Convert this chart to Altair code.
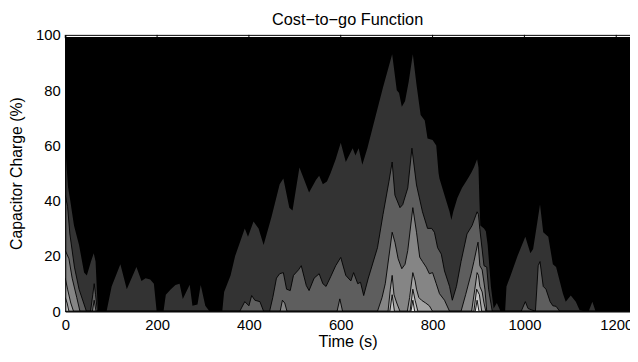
import altair as alt
import pandas as pd

TITLE = "Cost\u2212to\u2212go Function"
X_TITLE = "Time (s)"
Y_TITLE = "Capacitor Charge (%)"
X_TICKS = [0, 200, 400, 600, 800, 1000, 1200]
Y_TICKS = [0, 20, 40, 60, 80, 100]
X_MAX = 1230
Y_TOP = 99.2

# contour level 1 (darkest gray) upper envelope
L1_X = [0, 3, 6, 10, 19, 30, 41, 47, 56, 62, 66, 71,
        90, 101, 120, 134, 155, 166, 175, 185, 193, 199,
        214, 219, 230, 240, 249, 256, 271, 277, 288, 295, 305, 314,
        342, 346, 360, 370, 391, 398, 410, 421, 432, 449, 467, 475, 488, 495,
        510, 518, 531, 546, 553, 561, 570, 578, 589, 600, 611, 626, 632, 639,
        647, 658, 675, 692, 712, 722, 727, 733, 740, 748, 757, 765, 774, 783,
        789, 800, 808, 813, 815, 826, 837, 841, 845, 854, 864, 877, 884, 890,
        897, 900, 902, 904, 912, 916, 920, 927, 933, 940, 948,
        958, 961, 970, 985, 1002, 1013, 1019, 1026, 1034, 1041, 1052, 1062,
        1069, 1084, 1090, 1101, 1112, 1120, 1130, 1140, 1148, 1155, 1230]
L1_Y = [60, 52, 45, 41, 31, 24, 14, 13, 18, 21, 18, 0,
        0, 9, 17, 8, 16, 11, 12, 11.5, 10, 0,
        0, 6, 8, 9.5, 10, 4.5, 9.6, 2, 2.5, 9.5, 2, 0,
        0, 7, 13, 20, 30, 27, 32.5, 30, 24, 34, 46, 48, 37.5, 36.5,
        52, 48.6, 43, 47.5, 49, 46, 47, 50, 55, 61, 54, 59, 56.4, 59,
        53, 59, 70, 81, 93, 80, 79, 74, 76, 83, 93, 82, 71, 69,
        62.5, 62, 60, 50, 48, 42, 36, 33, 36, 41, 44.6, 48, 50, 52,
        55, 52, 40, 31, 30, 29, 24, 9, 1, 3, 0,
        0, 9, 13, 20, 27, 21, 22.5, 30, 38.6, 28.6, 27, 17,
        16, 6.4, 3.5, 5.7, 3.5, 0.5, 0, 0, 3.5, 0, 0]

# contour level 2
L2_X = [0, 5, 10, 20, 30, 40, 46, 55, 60, 63, 66, 70,
        380, 391, 400, 406, 413, 424, 432, 445, 452, 460, 467, 475, 482, 490,
        497, 508, 514, 525, 531, 542, 553, 561, 568, 578, 589, 600, 611, 622,
        628, 637, 643, 650, 660, 680, 692, 705, 712, 718, 729, 735, 746, 755,
        765, 778, 789, 798, 804, 811, 819, 826, 837, 843, 852, 862, 875, 886,
        897, 900, 903, 912, 918, 922, 927, 930,
        993, 1002, 1008, 1024, 1027, 1030, 1034, 1041, 1047, 1056, 1062, 1069,
        1077, 1230]
L2_Y = [42, 38, 28, 16, 8, 3, 0, 0, 6, 10, 6, 0,
        0, 3.5, 2, 5.7, 4, 3.5, 0, 0, 5, 12, 13.6, 14, 8, 7.5,
        13, 15, 16.5, 9.3, 7.5, 12, 13.6, 10, 9, 12.5, 16.5, 19.5, 13, 11,
        14, 10, 10.5, 5.7, 12, 23, 35, 47, 54, 42, 37.5, 38.6, 44.6, 59,
        45.7, 36, 30, 30, 28.6, 23, 20.7, 14.6, 9, 4, 9, 18, 28, 31,
        36, 35, 29.6, 16.5, 16, 8, 3, 0,
        0, 3.5, 1, 0, 8, 16.5, 18, 9, 8, 3.5, 2, 1.8,
        0, 0]

# contour level 3
L3_X = [0, 8, 15, 25, 32, 59, 63, 67, 468, 473, 478, 483, 592, 598, 604,
        680, 690, 697, 712, 718, 725, 733, 740, 746, 757, 765, 772, 778, 786,
        793, 800, 808, 815, 826, 837, 862, 872, 884, 890, 899, 903, 908, 914,
        918, 1230]
L3_Y = [22, 19, 12, 5, 0, 0, 4, 0, 0, 4, 3, 0, 0, 4.5, 0,
        0, 5, 10, 28.6, 25, 19, 15.4, 17, 22, 37.5, 28.6, 19.6, 18, 16,
        13.6, 14, 10, 6.4, 4, 0, 0, 6, 13.6, 18, 25, 16.5, 15, 8,
        0, 0]

# contour level 4
L4_X = [0, 5, 12, 18, 703, 708, 712, 716, 722, 729, 745, 750, 757, 762, 765,
        770, 776, 785, 793, 800, 885, 892, 897, 900, 903, 908, 912, 916, 1230]
L4_Y = [12, 8, 3, 0, 0, 8, 13, 6, 3, 0, 0, 5, 14, 11, 8,
        5, 4, 3, 2, 0, 0, 8, 14, 13, 9, 7, 3, 0, 0]

# contour level 5
L5_X = [0, 4, 8, 707, 712, 717, 751, 757, 762, 768, 890, 896, 902, 907, 1230]
L5_Y = [5, 3, 0, 0, 6, 0, 0, 8, 4, 0, 0, 8, 6, 0, 0]

# contour level 6 (lightest)
L6_X = [0, 753, 757, 761, 893, 897, 901, 1230]
L6_Y = [0, 0, 4, 0, 0, 4, 0, 0]

LEVELS = [(L1_X, L1_Y), (L2_X, L2_Y), (L3_X, L3_Y),
          (L4_X, L4_Y), (L5_X, L5_Y), (L6_X, L6_Y)]
LEVEL_COLORS = ["#333333", "#5e5e5e", "#858585", "#a5a5a5", "#c5c5c5", "#e5e5e5"]
BG_COLOR = "#000000"

FONT = "Liberation Sans"

x_scale = alt.Scale(domain=[0, X_MAX], nice=False, zero=False)
y_scale = alt.Scale(domain=[0, 100], nice=False, zero=False)

x_axis = alt.Axis(values=X_TICKS, ticks=False, grid=False, labelPadding=6,
                  title=X_TITLE, titlePadding=2, domainColor="black",
                  labelFlush=False, zindex=1, format="d",
                  labelFont=FONT, titleFont=FONT, labelFontSize=15, titleFontSize=16.5,
                  labelColor="black", titleColor="black", titleFontWeight="normal")
y_axis = alt.Axis(values=Y_TICKS, ticks=False, grid=False, labelPadding=5,
                  title=Y_TITLE, titlePadding=11, domainColor="black",
                  labelFlush=False, zindex=1, format="d",
                  labelFont=FONT, titleFont=FONT, labelFontSize=15, titleFontSize=16,
                  labelColor="black", titleColor="black", titleFontWeight="normal")


def xenc(field="x"):
    return alt.X(f"{field}:Q", scale=x_scale, axis=x_axis, title=X_TITLE)


def yenc(field="y"):
    return alt.Y(f"{field}:Q", scale=y_scale, axis=y_axis, title=Y_TITLE, stack=None)


bg_df = pd.DataFrame({"x": [0], "x2": [X_MAX], "y": [0], "y2": [Y_TOP]})
bg = alt.Chart(bg_df).mark_rect(color=BG_COLOR).encode(
    x=xenc(), x2="x2:Q", y=yenc(), y2="y2:Q",
)

layers = [bg]
for i, ((xs, ys), col) in enumerate(zip(LEVELS, LEVEL_COLORS)):
    df = pd.DataFrame({"x": xs, "y": ys})
    area = alt.Chart(df).mark_area(color=col, interpolate="linear", clip=True).encode(
        x=xenc(), y=yenc(),
    )
    layers.append(area)
    if i > 0:
        line = alt.Chart(df).mark_line(color="black", strokeWidth=0.9, clip=True).encode(
            x=xenc(), y=yenc(),
        )
        layers.append(line)

tick_df = pd.DataFrame({"x": X_TICKS, "y": [98.8] * len(X_TICKS), "y2": [100] * len(X_TICKS)})
top_ticks = alt.Chart(tick_df).mark_rule(color="black", strokeWidth=1).encode(
    x=xenc(), y=yenc(), y2="y2:Q",
)
layers.append(top_ticks)

chart = alt.layer(*layers).properties(
    width=572,
    height=280,
    title=alt.TitleParams(TITLE, fontSize=16.5, fontWeight="normal", font=FONT,
                          color="black", offset=0),
    autosize=alt.AutoSizeParams(type="none"),
    padding={"left": 58, "top": 25, "right": 0, "bottom": 40},
).configure_view(
    stroke="black", strokeWidth=1
)

chart.save("out.html", embed_options={"renderer": "svg", "actions": False})
